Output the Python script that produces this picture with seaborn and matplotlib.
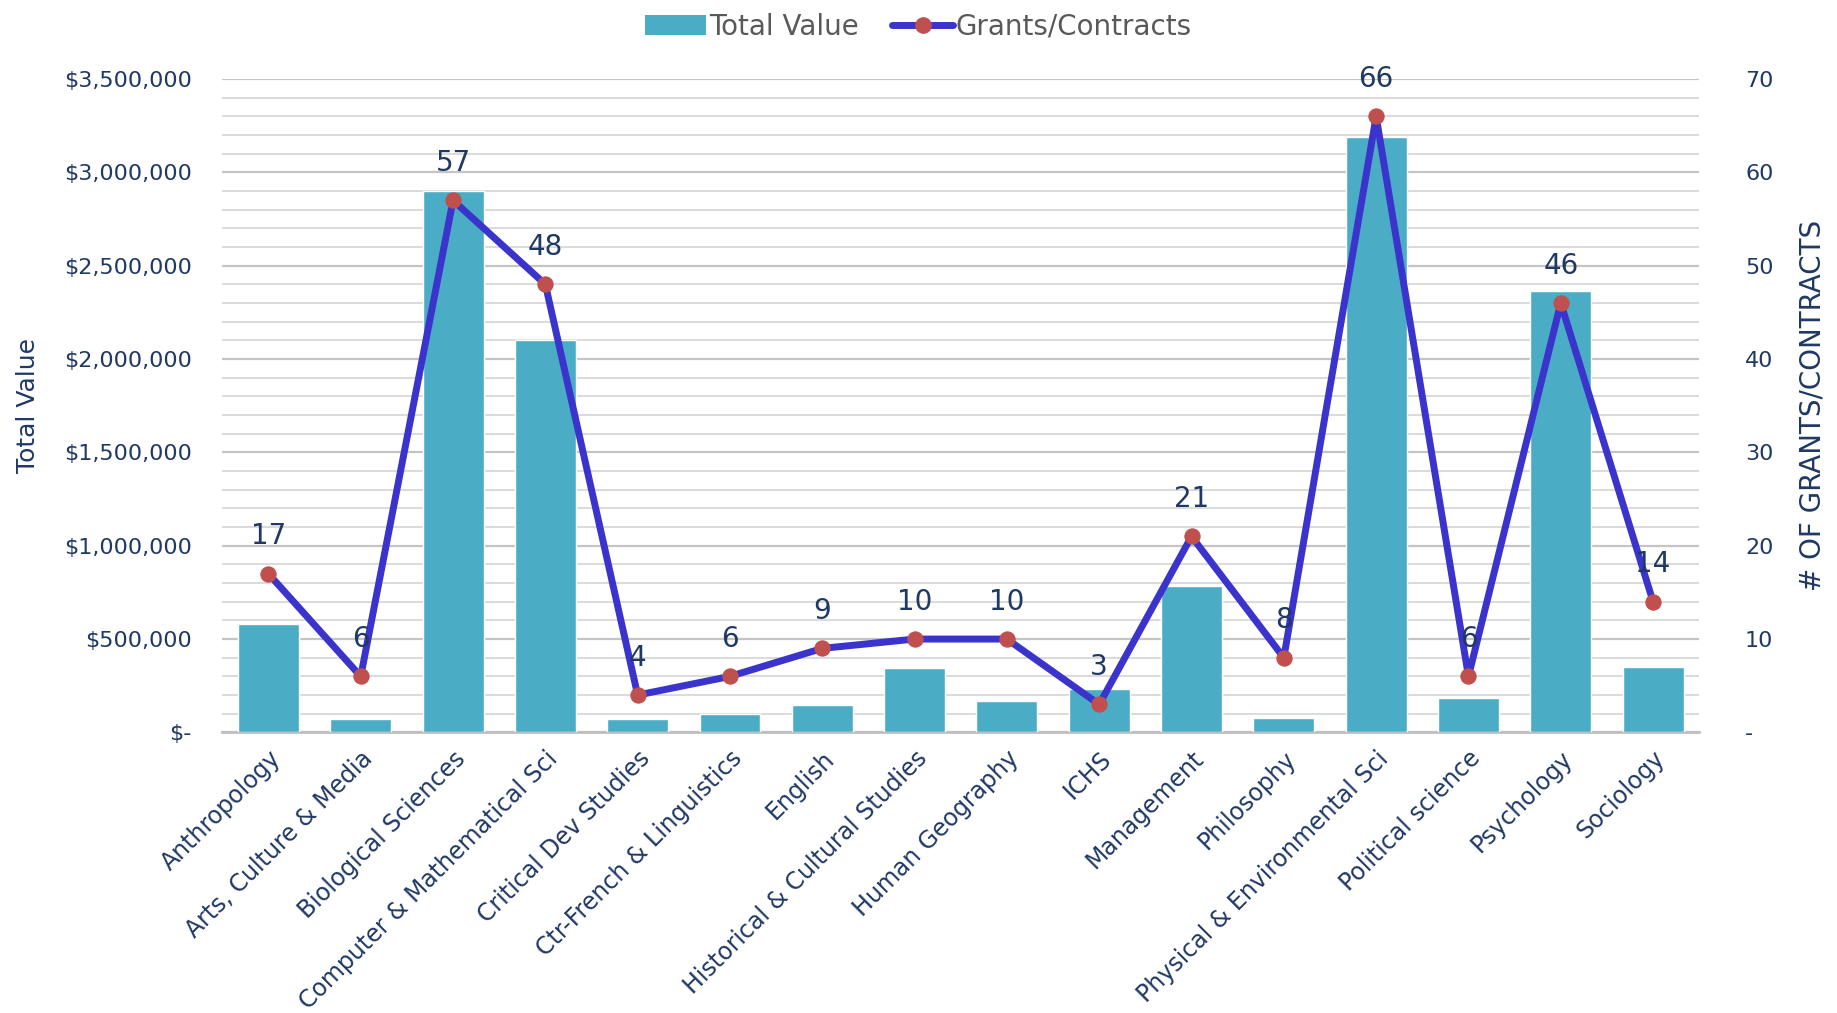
import numpy as np
import pandas as pd
import matplotlib
matplotlib.use("Agg")
import matplotlib.pyplot as plt
import matplotlib.ticker as mticker
from matplotlib.lines import Line2D
from matplotlib.patches import Patch
import seaborn as sns

departments = [
    "Anthropology", "Arts, Culture & Media", "Biological Sciences",
    "Computer & Mathematical Sci", "Critical Dev Studies", "Ctr-French & Linguistics",
    "English", "Historical & Cultural Studies", "Human Geography", "ICHS",
    "Management", "Philosophy", "Physical & Environmental Sci", "Political science",
    "Psychology", "Sociology",
]
total_value = [580000, 70000, 2900000, 2100000, 70000, 100000, 145000, 345000,
               170000, 233000, 786000, 75000, 3190000, 182000, 2363000, 352000]
grants = [17, 6, 57, 48, 4, 6, 9, 10, 10, 3, 21, 8, 66, 6, 46, 14]

df = pd.DataFrame({"Department": departments, "Total Value": total_value, "Grants": grants})

bar_color = "#4BACC6"
line_color = "#3A33CC"
marker_color = "#C0504D"
text_color = "#1F3864"

sns.set_style("white")
plt.rcParams["font.family"] = ["DejaVu Sans"]

fig = plt.figure(figsize=(18.37, 10.13), dpi=100)
ax = fig.add_axes([0.121, 0.277, 0.804, 0.645])

sns.barplot(data=df, x="Department", y="Total Value", color=bar_color,
            saturation=1, width=0.66, ax=ax, zorder=3)

ax.set_ylim(0, 3500000)
ax.set_xlim(-0.5, len(departments) - 0.5)
ax.yaxis.set_major_locator(mticker.MultipleLocator(500000))
ax.yaxis.set_minor_locator(mticker.MultipleLocator(100000))
ax.yaxis.set_major_formatter(mticker.FuncFormatter(
    lambda v, p: "$-" if v == 0 else f"${v:,.0f}"))
ax.grid(True, which="major", axis="y", color="#C4C4C4", lw=1.6, zorder=0)
ax.grid(True, which="minor", axis="y", color="#D4D4D4", lw=1.2, zorder=0)
ax.set_axisbelow(True)

# category boundary ticks like the spreadsheet
ax.set_xticks(np.arange(-0.5, len(departments), 1.0), minor=True)
ax.tick_params(axis="x", which="major", length=0, pad=10)
ax.tick_params(axis="x", which="minor", length=10, width=1.5, color="#BFBFBF")
ax.tick_params(axis="y", which="both", length=0, pad=22, labelsize=16, labelcolor=text_color)
ax.set_xticklabels(departments, rotation=45, ha="right", rotation_mode="anchor",
                   fontsize=17, color=text_color)
ax.set_xlabel("")
ax.set_ylabel("Total Value", fontsize=18, color=text_color, labelpad=17)

for s in ["top", "left", "right"]:
    ax.spines[s].set_visible(False)
ax.spines["bottom"].set_color("#BFBFBF")
ax.spines["bottom"].set_linewidth(2)

ax2 = ax.twinx()
sns.lineplot(x=np.arange(len(departments)), y=grants, ax=ax2, color=line_color,
             lw=5, marker="o", markersize=11, markerfacecolor=marker_color,
             markeredgecolor=marker_color, zorder=4)
ax2.set_ylim(0, 70)
ax2.yaxis.set_major_locator(mticker.MultipleLocator(10))
ax2.yaxis.set_major_formatter(mticker.FuncFormatter(lambda v, p: "-" if v == 0 else f"{v:.0f}"))
ax2.tick_params(axis="y", length=0, pad=33, labelsize=16, labelcolor=text_color)
ax2.set_ylabel("# OF GRANTS/CONTRACTS", fontsize=20, color=text_color, labelpad=18)
for s in ["top", "left", "right", "bottom"]:
    ax2.spines[s].set_visible(False)

for i, g in enumerate(grants):
    ax2.annotate(str(g), (i, g), xytext=(0, 27), textcoords="offset points",
                 ha="center", va="center", fontsize=20, color=text_color, zorder=5)

handles = [
    Patch(facecolor=bar_color, edgecolor="none"),
    Line2D([0], [0], color=line_color, lw=5, marker="o", markersize=11,
           markerfacecolor=marker_color, markeredgecolor=marker_color),
]
fig.legend(handles, ["Total Value", "Grants/Contracts"], loc="upper center",
           bbox_to_anchor=(0.5, 1.012), ncol=2, frameon=False, fontsize=20,
           labelcolor="#595959", handlelength=2.2, handletextpad=0.1, columnspacing=1.2)

fig.savefig("out.png", dpi=100, facecolor="white")
